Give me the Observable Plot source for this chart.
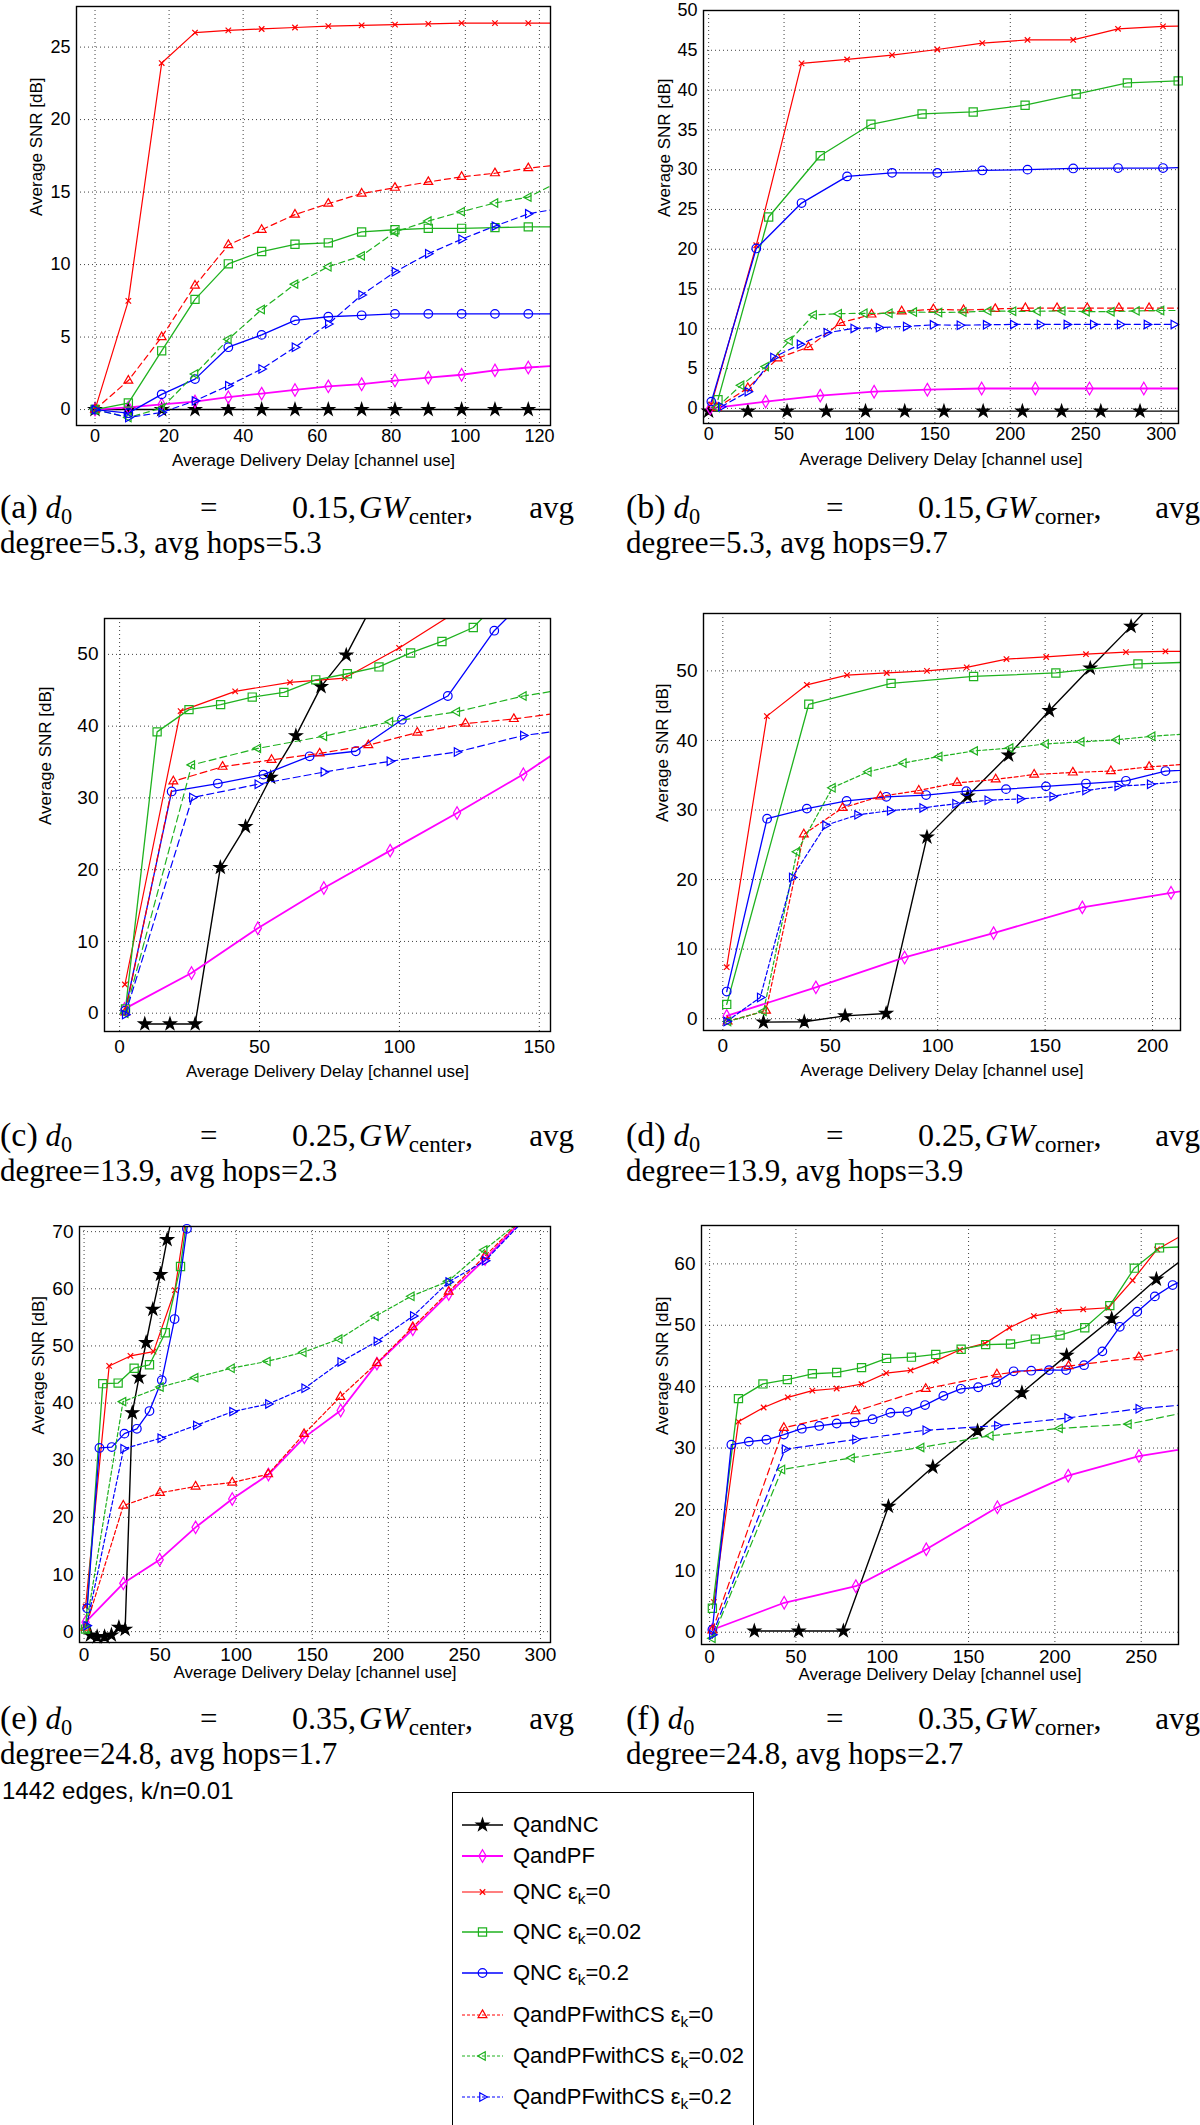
<!DOCTYPE html>
<html><head><meta charset="utf-8">
<script src="https://cdn.jsdelivr.net/npm/d3@7"></script>
<script src="https://cdn.jsdelivr.net/npm/@observablehq/plot@0.6"></script>
<style>
body{margin:0;background:#fff;}
#page{position:relative;width:1200px;height:2125px;overflow:hidden;background:#fff;font-family:"Liberation Sans",Arial,Helvetica,sans-serif;color:#000;}
.cap{position:absolute;font-family:"Liberation Serif","Times New Roman",serif;font-size:31px;line-height:36px;color:#000;}
.cap .l1{display:flex;align-items:baseline;white-space:nowrap;height:36px;}
.cap .l1 .c1{width:200px;flex:none;}
.cap .l1 .c2{width:92px;flex:none;}
.cap .l1 .c3{flex:1;}
.cap .lab{font-size:34px;}
.cap .math{font-size:32px;}
.cap sub{font-size:0.72em;vertical-align:-0.25em;line-height:0;}
.cap .l2{white-space:nowrap;}
.note{position:absolute;font-size:24px;line-height:28px;}
.legend{position:absolute;border:1.3px solid #000;background:#fff;}
.legend .row{position:absolute;left:0;height:24px;display:flex;align-items:center;font-size:22px;white-space:nowrap;}
.legend sub{font-size:0.7em;vertical-align:-0.35em;line-height:0;}
</style>
</head><body><div id="page"></div>
<script>
// ---------------- DATA ([delay, SNR] pairs) ----------------
// (a)
const a_QandNC = [[0,0],[9,0],[18,0],[27,0],[36,0],[45,0],[54,0],[63,0],[72,0],[81,0],[90,0],[99,0],[108,0],[117,0],[126,0]];
const a_QandPF = [[0,0],[9,0.15],[18,0.35],[27,0.55],[36,0.85],[45,1.1],[54,1.35],[63,1.6],[72,1.75],[81,2.0],[90,2.2],[99,2.4],[108,2.7],[117,2.9],[126,3.05]];
const a_QNC0 = [[0,0],[9,7.5],[18,23.9],[27,26.0],[36,26.15],[45,26.25],[54,26.35],[63,26.45],[72,26.5],[81,26.55],[90,26.6],[99,26.65],[108,26.65],[117,26.65],[126,26.65]];
const a_QNC002 = [[0,0],[9,0.45],[18,4.05],[27,7.6],[36,10.05],[45,10.9],[54,11.4],[63,11.5],[72,12.25],[81,12.4],[90,12.5],[99,12.5],[108,12.55],[117,12.6],[126,12.6]];
const a_QNC02 = [[0,0],[9,-0.25],[18,1.05],[27,2.1],[36,4.3],[45,5.15],[54,6.15],[63,6.4],[72,6.5],[81,6.6],[90,6.6],[99,6.6],[108,6.6],[117,6.6],[126,6.6]];
const a_CS0 = [[0,0],[9,2.0],[18,5.0],[27,8.55],[36,11.35],[45,12.4],[54,13.45],[63,14.2],[72,14.9],[81,15.3],[90,15.7],[99,16.05],[108,16.3],[117,16.65],[126,16.9]];
const a_CS002 = [[0,0],[9,-0.55],[18,0.1],[27,2.45],[36,4.85],[45,6.9],[54,8.65],[63,9.85],[72,10.6],[81,12.25],[90,13.0],[99,13.65],[108,14.25],[117,14.65],[126,15.8]];
const a_CS02 = [[0,0],[9,-0.55],[18,-0.2],[27,0.6],[36,1.65],[45,2.8],[54,4.3],[63,5.9],[72,7.9],[81,9.5],[90,10.75],[99,11.75],[108,12.65],[117,13.5],[126,13.9]];
const a_xTicks = [0,20,40,60,80,100,120];
const a_yTicks = [0,5,10,15,20,25];
// (b)
const b_QandNC = [[0,-0.35],[26,-0.35],[52,-0.35],[78,-0.35],[104,-0.35],[130,-0.35],[156,-0.35],[182,-0.35],[208,-0.35],[234,-0.35],[260,-0.35],[286,-0.35],[312,-0.35]];
const b_QandPF = [[1,0],[37.8,0.85],[74,1.6],[109.7,2.1],[145,2.35],[181,2.5],[216.6,2.5],[252.5,2.5],[288.5,2.5],[324,2.5]];
const b_QNC0 = [[1.8,0.5],[31.6,20.5],[61.6,43.35],[91.8,43.85],[121.6,44.4],[151.6,45.1],[181.4,45.9],[211.4,46.3],[241.7,46.3],[271.4,47.7],[301.2,48.0],[331,48.1]];
const b_QNC002 = [[6.2,1.1],[39.8,24.05],[74,31.75],[107.6,35.7],[141.5,37.0],[175.4,37.25],[209.8,38.1],[243.7,39.5],[277.6,40.9],[311.3,41.15]];
const b_QNC02 = [[1.8,0.85],[31.6,20.1],[61.6,25.8],[91.8,29.15],[121.6,29.6],[151.6,29.6],[181.4,29.9],[211.4,30.0],[241.7,30.15],[271.4,30.2],[301.2,30.2],[331,30.4]];
const b_CS0 = [[5.5,0.1],[26,2.55],[45.8,6.3],[66.2,7.7],[87.5,10.75],[108,11.8],[128,12.2],[149,12.45],[169,12.35],[190,12.5],[210,12.6],[231,12.6],[251,12.6],[272,12.6],[292,12.6],[313,12.6]];
const b_CS002 = [[5.3,0.1],[21.5,2.9],[37.8,5.25],[53.6,8.5],[69.6,11.75],[86.2,11.9],[103.2,11.95],[119.8,11.95],[136,12.1],[152.7,12.05],[168.8,12.1],[185.3,12.25],[201.8,12.2],[218,12.2],[234.4,12.25],[250.5,12.15],[267,12.15],[283.6,12.25],[299.9,12.3],[316,12.3]];
const b_CS02 = [[8.4,0.2],[26,2.1],[43,6.4],[60.6,8.05],[78.4,9.5],[96.2,10.05],[113,10.15],[131,10.3],[148.8,10.5],[166.6,10.45],[184,10.5],[202,10.55],[219.7,10.55],[237.5,10.55],[255,10.55],[272.8,10.55],[290.6,10.55],[308.4,10.55]];
const b_xTicks = [0,50,100,150,200,250,300];
const b_yTicks = [0,5,10,15,20,25,30,35,40,45,50];
// (c)
const c_QandNC = [[9,-1.5],[18,-1.5],[27,-1.5],[36,20.3],[45,26.0],[54,32.85],[63,38.65],[72,45.5],[81,49.9],[90,56.6]];
const c_QandPF = [[1.75,0.6],[25.7,5.6],[49.4,11.85],[73,17.45],[96.7,22.65],[120.6,27.9],[144.3,33.3],[168,39.5]];
const c_QNC0 = [[1.9,4.0],[21.8,42.1],[41.3,44.85],[60.9,46.1],[80.4,46.7],[99.9,50.9],[119.4,55.7]];
const c_QNC002 = [[2.1,0.6],[13.4,39.2],[24.8,42.3],[36.1,43.0],[47.4,44.05],[58.7,44.7],[70.1,46.45],[81.4,47.3],[92.7,48.25],[104,50.2],[115.2,51.8],[126.4,53.75],[137.7,58.3]];
const c_QNC02 = [[2,0.35],[18.6,30.9],[35.1,32.0],[51.4,33.25],[67.9,35.8],[84.4,36.5],[100.9,40.9],[117.3,44.2],[133.9,53.3],[150.4,59.7]];
const c_CS0 = [[2,0.1],[19.2,32.3],[36.8,34.35],[54.3,35.3],[71.5,36.2],[88.9,37.35],[106.4,39.1],[123.6,40.35],[140.9,41.0],[158.3,41.9]];
const c_CS002 = [[2,0],[25.8,34.6],[49.4,36.9],[73,38.6],[96.6,40.6],[120.5,42.0],[144.3,44.2],[168,45.7]];
const c_CS02 = [[2,-0.2],[26,30.05],[49.4,31.9],[73,33.6],[96.6,35.1],[120.6,36.4],[144.3,38.7],[168,39.9]];
const c_xTicks = [0,50,100,150];
const c_yTicks = [0,10,20,30,40,50];
// (d)
const d_QandNC = [[18.9,-0.5],[37.9,-0.45],[56.9,0.4],[76,0.75],[95,26.1],[114,32.0],[133,37.9],[152,44.3],[171,50.4],[190,56.4],[209,62.8]];
const d_QandPF = [[1.8,0.4],[43.3,4.5],[84.6,8.8],[126,12.3],[167.3,16.0],[208.6,18.1],[250,20]];
const d_QNC0 = [[1.8,7.4],[20.5,43.5],[39.1,48.0],[57.8,49.4],[76.3,49.7],[95,50.0],[113.5,50.5],[132,51.7],[150.5,52.0],[169,52.4],[187.6,52.7],[206,52.8],[224.7,52.8]];
const d_QNC002 = [[1.8,2.05],[40,45.2],[78.3,48.2],[116.7,49.2],[155,49.7],[193.2,51.0],[231.5,51.4]];
const d_QNC02 = [[1.8,3.9],[20.6,28.75],[39.1,30.2],[57.6,31.3],[76.1,31.9],[94.6,32.15],[113.3,32.7],[131.8,33.0],[150.4,33.4],[169,33.8],[187.6,34.2],[206,35.6],[224.7,35.9]];
const d_CS0 = [[2.2,-0.4],[20.1,1.15],[37.7,26.5],[55.7,30.3],[73.3,31.95],[91.2,32.8],[109,33.9],[127,34.4],[144.9,35.1],[162.9,35.4],[180.6,35.6],[198.4,36.2],[216.3,36.6]];
const d_CS002 = [[2.4,-0.4],[18.9,1.05],[34.5,24.0],[51,33.2],[67.7,35.5],[84,36.75],[100.7,37.7],[117.2,38.5],[133.7,38.9],[150.2,39.5],[166.8,39.8],[183.3,40.1],[199.8,40.6],[216.3,40.95]];
const d_CS02 = [[1.8,-0.4],[17.4,3.05],[32.3,20.3],[47.8,27.8],[62.7,29.3],[77.9,29.9],[93,30.3],[108.3,30.9],[123.3,31.4],[138.4,31.6],[153.5,31.95],[168.8,32.8],[183.8,33.4],[198.9,33.7],[214,34.1]];
const d_xTicks = [0,50,100,150,200];
const d_yTicks = [0,10,20,30,40,50];
// (e)
const e_QandNC = [[4.2,-0.6],[8.6,-0.9],[13.5,-0.9],[18,-0.6],[22.9,0.75],[27,0.4],[31.7,38.3],[36.1,44.5],[40.8,50.6],[45.2,56.4],[50.2,62.5],[54.6,68.6],[59.2,74.5]];
const e_QandPF = [[1,1.65],[25.8,8.45],[49.7,12.6],[73.3,18.25],[97.4,23.2],[121.2,27.5],[144.8,34.0],[168.7,38.7],[192.5,46.9],[216.1,52.9],[239.7,59.1],[263.6,65.2],[287.4,71.8]];
const e_QNC0 = [[1,4.4],[16.5,46.5],[30.5,48.25],[45.7,49.0],[59.7,59.75],[74,85]];
const e_QNC002 = [[1,0.45],[12.3,43.4],[22.4,43.5],[32.9,46.1],[43,46.7],[53.4,52.3],[63.4,63.9],[73.8,85]];
const e_QNC02 = [[2,4.1],[10.1,32.15],[18.2,32.3],[26.5,34.65],[34.7,35.5],[43,38.6],[51.1,44.0],[59.5,54.7],[67.6,70.5],[75.8,86]];
const e_CS0 = [[1,0.7],[25.8,22.05],[49.9,24.3],[73.3,25.4],[97.4,26.1],[121,27.55],[144.6,34.6],[168.5,41.1],[192.5,47.0],[216.1,53.3],[239.7,59.5],[263.6,65.75],[287.4,72.0]];
const e_CS002 = [[1,0.45],[25.6,40.25],[50.2,42.8],[73,44.45],[96.9,46.1],[120.5,47.3],[144.1,48.9],[167.7,51.2],[191.5,55.2],[215.1,58.7],[239.2,61.3],[263,66.8],[286.6,71.8]];
const e_CS02 = [[1.7,1.05],[26,32.0],[50.4,33.85],[73.8,36.1],[97.6,38.5],[121.2,39.85],[145,42.6],[168.7,47.2],[192.5,50.8],[216.4,55.25],[239.7,61.2],[263.6,64.9],[287.4,71.5]];
const e_xTicks = [0,50,100,150,200,250,300];
const e_yTicks = [0,10,20,30,40,50,60,70];
// (f)
const f_QandNC = [[25.9,0.2],[51.6,0.2],[77.5,0.2],[103.6,20.5],[129.3,26.9],[155.2,32.8],[180.9,39.0],[206.8,45.1],[232.9,51.05],[258.8,57.5],[284.7,63]];
const f_QandPF = [[1.6,0.4],[43.2,4.8],[84.7,7.5],[125.5,13.5],[166.7,20.35],[207.7,25.5],[248.7,28.7],[289.7,30.5]];
const f_QNC0 = [[2.5,4.9],[16.7,34.3],[31.3,36.6],[45.3,38.25],[59.5,39.35],[73.6,39.7],[88,40.4],[102.3,42.2],[116.4,42.65],[131,44.2],[145,46.0],[159.5,47.05],[173.6,49.6],[187.8,51.5],[202.3,52.35],[216.4,52.6],[231,52.85],[245,57.3],[259.2,62.35],[273.4,64.6]];
const f_QNC002 = [[1.6,3.9],[16.7,38.05],[30.9,40.45],[45,41.15],[59.5,42.1],[73.6,42.3],[88,43.1],[102.5,44.6],[116.9,44.8],[131,45.25],[145.7,46.1],[159.9,46.85],[174.3,46.95],[188.7,47.75],[203,48.4],[217.3,49.6],[231.8,53.2],[246,59.3],[260.6,62.6],[275,62.8]];
const f_QNC02 = [[1.6,0.4],[12.6,30.55],[22.7,31.05],[32.9,31.35],[43,32.2],[53.4,33.15],[63.5,33.6],[73.6,34.0],[84,34.2],[94.4,34.7],[104.7,35.75],[114.6,35.9],[124.8,37.0],[135.4,38.5],[145.5,39.65],[155.6,39.9],[166,40.7],[176.1,42.5],[186.3,42.6],[196.6,42.7],[206.5,42.7],[216.9,43.5],[227.5,45.75],[237.6,49.75],[247.7,52.2],[257.9,54.7],[268.2,56.55],[278.4,57.8]];
const f_CS0 = [[1.6,0.3],[43,33.3],[84.5,36.0],[125.2,39.65],[166.4,42.0],[207.9,43.35],[248.6,44.8],[289.7,47]];
const f_CS002 = [[1.6,-1.0],[41.9,26.5],[82.2,28.4],[122.5,30.1],[162.6,32.0],[202.7,33.2],[242.6,33.9],[282.6,36.2]];
const f_CS02 = [[1.6,-0.4],[43.7,29.8],[84.5,31.4],[125.2,32.9],[166.7,33.65],[207.4,34.9],[248.6,36.4],[289.7,37.4]];
const f_xTicks = [0,50,100,150,200,250];
const f_yTicks = [0,10,20,30,40,50,60];

// text
const seriesNames = ["QandNC","QandPF","QNC ε_k=0","QNC ε_k=0.02","QNC ε_k=0.2","QandPFwithCS ε_k=0","QandPFwithCS ε_k=0.02","QandPFwithCS ε_k=0.2"];
const capLetters = ["a","b","c","d","e","f"];
const capD0 = ["0.15","0.15","0.25","0.25","0.35","0.35"];
const capGW = ["center","corner","center","corner","center","corner"];
const capDegree = ["5.3","5.3","13.9","13.9","24.8","24.8"];
const capHops = ["5.3","9.7","2.3","3.9","1.7","2.7"];
const xLabel = "Average Delivery Delay [channel use]";
const yLabel = "Average SNR [dB]";
const noteText = "1442 edges, k/n=0.01";

// ---------------- STYLE ----------------
const triLeft = {draw(ctx, size){const k=Math.sqrt(size/Math.PI);ctx.moveTo(-1.15*k,0);ctx.lineTo(0.65*k,-k);ctx.lineTo(0.65*k,k);ctx.closePath();}};
const triRight = {draw(ctx, size){const k=Math.sqrt(size/Math.PI);ctx.moveTo(1.15*k,0);ctx.lineTo(-0.65*k,-k);ctx.lineTo(-0.65*k,k);ctx.closePath();}};
const GREEN = "#1fb21f";
const STY = [
  {color:"#000000", dashed:false, sym:d3.symbolStar, fill:"#000000", r:3.9, sw:1.4},
  {color:"#ff00ff", dashed:false, sym:d3.symbolDiamond, fill:"none", r:3.8, sw:1.8},
  {color:"#ff0000", dashed:false, sym:d3.symbolTimes, fill:"none", r:2.6, sw:1.2},
  {color:GREEN, dashed:false, sym:d3.symbolSquare2, fill:"none", r:5.2, sw:1.3},
  {color:"#0000ff", dashed:false, sym:d3.symbolCircle, fill:"none", r:4.3, sw:1.3},
  {color:"#ff0000", dashed:true, sym:d3.symbolTriangle2, fill:"none", r:4.2, sw:1.2},
  {color:GREEN, dashed:true, sym:triLeft, fill:"none", r:4.2, sw:1.2},
  {color:"#0000ff", dashed:true, sym:triRight, fill:"none", r:4.2, sw:1.2}
];

const panels = [
  {series:[a_QandNC,a_QandPF,a_QNC0,a_QNC002,a_QNC02,a_CS0,a_CS002,a_CS02], xd:[-5,123], yd:[-1.1,27.8], xt:a_xTicks, yt:a_yTicks, box:[76,6,550,425], ylabX:36, xlabY:465, xpad:4, dash:"6,4", fs:18},
  {series:[b_QandNC,b_QandPF,b_QNC0,b_QNC002,b_QNC02,b_CS0,b_CS002,b_CS02], xd:[-3.4,311.5], yd:[-1.9,50], xt:b_xTicks, yt:b_yTicks, box:[703,10,1178,423], ylabX:664, xlabY:464, xpad:4, dash:"6,4", fs:18},
  {series:[c_QandNC,c_QandPF,c_QNC0,c_QNC002,c_QNC02,c_CS0,c_CS002,c_CS02], xd:[-5.4,154], yd:[-2.55,55], xt:c_xTicks, yt:c_yTicks, box:[104,618,550,1031], ylabX:45, xlabY:1076, xpad:8, dash:"7,4", fs:19},
  {series:[d_QandNC,d_QandPF,d_QNC0,d_QNC002,d_QNC02,d_CS0,d_CS002,d_CS02], xd:[-9,213], yd:[-1.7,58.25], xt:d_xTicks, yt:d_yTicks, box:[703,613,1180,1030], ylabX:662, xlabY:1075, xpad:8, dash:"4,2.5", fs:19},
  {series:[e_QandNC,e_QandPF,e_QNC0,e_QNC002,e_QNC02,e_CS0,e_CS002,e_CS02], xd:[-3,306.6], yd:[-1.9,70.9], xt:e_xTicks, yt:e_yTicks, box:[79,1226,550,1642], ylabX:38, xlabY:1677, xpad:5, dash:"4,2.5", fs:19},
  {series:[f_QandNC,f_QandPF,f_QNC0,f_QNC002,f_QNC02,f_CS0,f_CS002,f_CS02], xd:[-4.7,271.6], yd:[-2,66.25], xt:f_xTicks, yt:f_yTicks, box:[701,1225,1178,1644], ylabX:662, xlabY:1679, xpad:5, dash:"7,4", fs:19}
];

const page = document.getElementById("page");
const X = d => d[0], Y = d => d[1];

panels.forEach(p => {
  const [L,T,R,B] = p.box;
  const mL = 95, mR = 30, mT = 14, mB = 70;
  const marks = [
    Plot.gridX({ticks:p.xt, stroke:"#000", strokeOpacity:0.75, strokeWidth:1, strokeDasharray:"1,3"}),
    Plot.gridY({ticks:p.yt, stroke:"#000", strokeOpacity:0.75, strokeWidth:1, strokeDasharray:"1,3"})
  ];
  STY.forEach((s,i) => {
    const data = p.series[i];
    marks.push(Plot.line(data, {x:X, y:Y, stroke:s.color, strokeWidth:s.sw, strokeDasharray:s.dashed ? p.dash : null, clip:true}));
    const vis = data.filter(d => d[0] >= p.xd[0] && d[0] <= p.xd[1] && d[1] >= p.yd[0] && d[1] <= p.yd[1]);
    marks.push(Plot.dot(vis, {x:X, y:Y, symbol:s.sym, r:s.r, stroke:s.color, fill:s.fill, strokeWidth:1.2}));
  });
  marks.push(Plot.axisX({ticks:p.xt, tickSize:0, tickPadding:p.xpad, fontSize:p.fs, label:null}));
  marks.push(Plot.axisY({ticks:p.yt, tickSize:0, tickPadding:6, fontSize:p.fs, label:null}));
  marks.push(Plot.text([yLabel], {text:d=>d, frameAnchor:"left", rotate:-90, dx:p.ylabX - L, fontSize:17}));
  marks.push(Plot.text([xLabel], {text:d=>d, frameAnchor:"bottom", dy:p.xlabY - B, fontSize:17}));
  marks.push(Plot.frame({stroke:"#000", strokeWidth:1.4}));
  const svg = Plot.plot({
    width:(R-L)+mL+mR, height:(B-T)+mT+mB,
    marginLeft:mL, marginRight:mR, marginTop:mT, marginBottom:mB,
    x:{domain:p.xd}, y:{domain:p.yd},
    style:{fontFamily:"Liberation Sans, Arial, Helvetica, sans-serif", color:"#000", background:"transparent", overflow:"visible"},
    marks
  });
  svg.style.position = "absolute";
  svg.style.left = (L - mL) + "px";
  svg.style.top = (T - mT) + "px";
  page.appendChild(svg);
});

// captions
const capTop = [489, 489, 1117, 1117, 1700, 1700];
capLetters.forEach((c,i) => {
  const left = i % 2 === 0 ? 0 : 626;
  const div = document.createElement("div");
  div.className = "cap";
  div.style.left = left + "px";
  div.style.top = capTop[i] + "px";
  div.style.width = "574px";
  div.innerHTML = `<div class="l1"><span class="c1"><span class="lab">(${c})</span> <i>d</i><sub>0</sub></span><span class="c2">=</span><span class="c3 math">${capD0[i]},<i style="margin-left:3px">GW</i><sub>${capGW[i]}</sub>,</span><span>avg</span></div><div class="l2">degree=${capDegree[i]}, avg hops=${capHops[i]}</div>`;
  page.appendChild(div);
});

// note
const note = document.createElement("div");
note.className = "note";
note.style.left = "2px"; note.style.top = "1777px";
note.textContent = noteText;
page.appendChild(note);

// legend
const legTop = 1792, legLeft = 452;
const rowY = [20, 51, 87, 127, 168, 210, 251, 292];
const leg = document.createElement("div");
leg.className = "legend";
leg.style.left = legLeft + "px"; leg.style.top = legTop + "px";
leg.style.width = "300px"; leg.style.height = "332px";
page.appendChild(leg);
seriesNames.forEach((name,i) => {
  const s = STY[i];
  const row = document.createElement("div");
  row.className = "row";
  row.style.top = rowY[i] + "px";
  const svg = d3.create("svg").attr("width",58).attr("height",24).style("flex","none");
  svg.append("line").attr("x1",9).attr("x2",50).attr("y1",12).attr("y2",12)
    .attr("stroke",s.color).attr("stroke-width",s.sw).attr("stroke-dasharray", s.dashed ? "3,2" : null);
  svg.append("path").attr("transform","translate(29.5,12)")
    .attr("d", d3.symbol(s.sym, Math.PI*s.r*s.r)())
    .attr("fill", s.fill).attr("stroke", s.color).attr("stroke-width",1.2);
  row.appendChild(svg.node());
  const t = document.createElement("span");
  t.style.marginLeft = "2px";
  t.innerHTML = name.replace("_k", "<sub>k</sub>");
  row.appendChild(t);
  leg.appendChild(row);
});
</script>
</body></html>
